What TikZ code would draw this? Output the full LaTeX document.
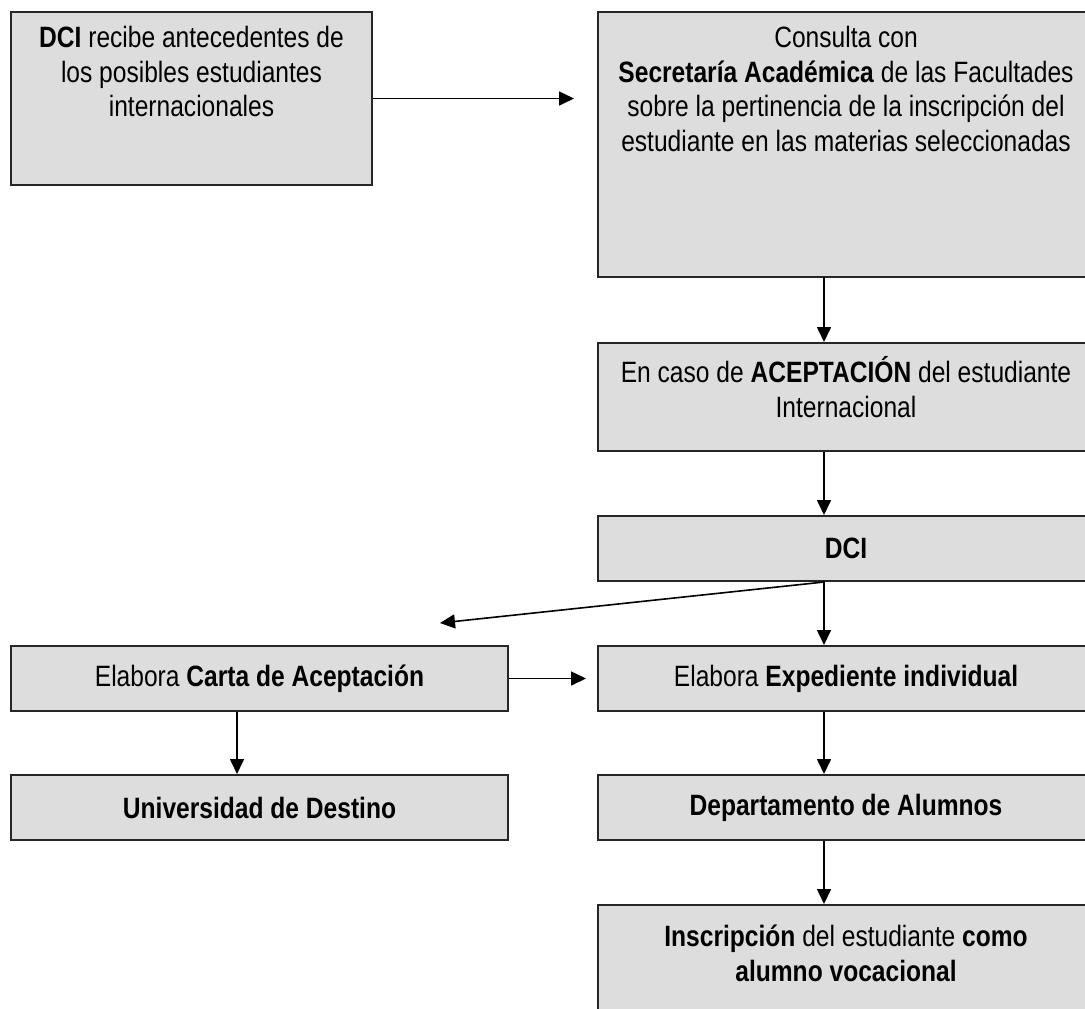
\documentclass[tikz,border=0pt]{standalone}
\usepackage{fontspec}
\setmainfont{Liberation Sans}[FakeStretch=0.836]
\usetikzlibrary{positioning,arrows.meta}
\definecolor{boxgray}{RGB}{221,221,221}

\begin{document}
\begin{tikzpicture}[x=0.5pt,y=-0.5pt,
	box/.style={draw=black!85,fill=boxgray,line width=1pt,inner sep=0pt,
		minimum height=32.5pt,font=\fontsize{14.7}{17.3}\selectfont},
	wide/.style={box,minimum width=248pt},
	narrow/.style={box,minimum width=248.5pt},
	txt/.style={inner sep=0pt,align=center,font=\fontsize{14.7}{17.3}\selectfont,
		execute at begin node={\rule{0pt}{14pt}}},
	flow/.style={line width=0.8pt,-{Triangle[length=7.5pt,width=7pt]}}]

	\useasboundingbox (0,0) rectangle (1085,1008);

	% x of the vertical arrows
	\coordinate (spine) at (824,0);
	\coordinate (leftspine) at (237,0);
	\coordinate (accept) at (440,623);

	% boxes
	\node[box,minimum width=180.5pt,minimum height=86.5pt] (b1) at (191.5,98.5) {};
	\node[wide,minimum height=132.5pt] (b2) at (846,144.5) {};
	\node[wide,minimum height=54pt] (b3) at (846,397) {};
	\node[wide] (b4) at (846,548.5) {\textbf{DCI}};
	\node[narrow] (b5) at (259.5,678.5) {Elabora \textbf{Carta de Aceptación}};
	\node[wide] (b6) at (846,678.5) {Elabora \textbf{Expediente individual}};
	\node[narrow] (b7) at (259.5,807.5) {\textbf{Universidad de Destino}};
	\node[wide] (b8) at (846,807.5) {\textbf{Departamento de Alumnos}};
	\node[wide,minimum height=70pt] (b9) at (846,975) {};

	% texts at the top of the tall boxes
	\node[txt,below=7.5pt of b1.north] (b1t) {\textbf{DCI} recibe antecedentes de\\los posibles estudiantes\\internacionales};
	\node[txt,below=7.5pt of b2.north] (b2t) {Consulta con\\\textbf{Secretaría Académica} de las Facultades\\sobre la pertinencia de la inscripción del\\estudiante en las materias seleccionadas};
	\node[txt,below=7pt of b3.north] (b3t) {En caso de \textbf{ACEPTACIÓN} del estudiante\\Internacional};
	\node[txt,below=10.5pt of b9.north] (b9t) {\textbf{Inscripción} del estudiante \textbf{como}\\\textbf{alumno vocacional}};

	% arrows
	\draw[flow,shorten >=11.5pt] (b1.east) -- (b1.east -| b2.west);
	\draw[flow] (b2.south -| spine) -- (b3.north -| spine);
	\draw[flow] (b3.south -| spine) -- (b4.north -| spine);
	\draw[flow] (b4.south -| spine) -- (b6.north -| spine);
	\draw[flow] (b4.south -| spine) -- (accept);
	\draw[flow,shorten >=5.5pt] (b5.east) -- (b5.east -| b6.west);
	\draw[flow] (b5.south -| leftspine) -- (b7.north -| leftspine);
	\draw[flow] (b6.south -| spine) -- (b8.north -| spine);
	\draw[flow] (b8.south -| spine) -- (b9.north -| spine);

\end{tikzpicture}
\end{document}
